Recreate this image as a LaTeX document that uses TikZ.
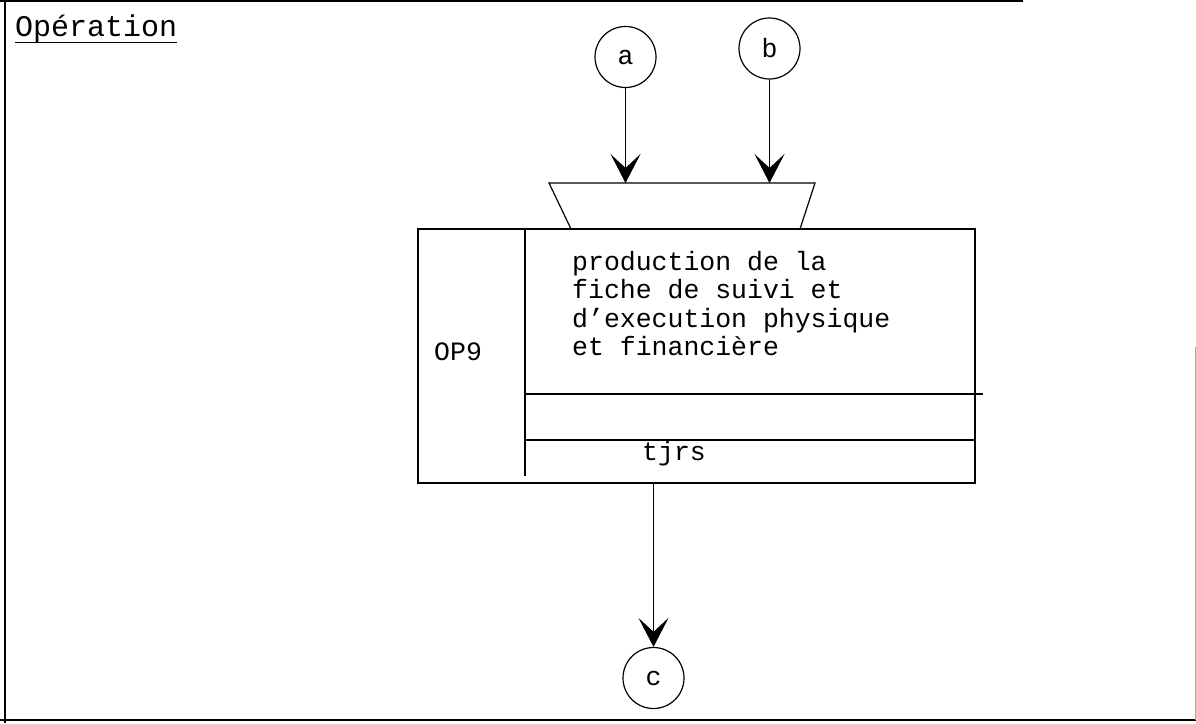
\documentclass[tikz,border=0pt]{standalone}
\usepackage{fontspec}
\newfontfamily\courier{Liberation Mono}
\usepackage{tikz}
\usetikzlibrary{shapes,arrows.meta,positioning,calc}
\tikzstyle{txt} = [inner sep=0pt, font=\courier\fontsize{26.5}{28.5}\selectfont]
\tikzstyle{conn} = [circle, draw, line width=1.2pt, minimum size=61pt, inner sep=0pt, font=\courier\fontsize{26.5}{28.5}\selectfont]
\tikzstyle{opbox} = [rectangle, draw, line width=1.2pt, minimum width=557pt, minimum height=254pt, inner sep=0pt]
\tikzstyle{trait} = [line width=1.2pt]
\tikzstyle{arrow} = [line width=1.2pt, -{Stealth[length=29pt, width=30pt, inset=14pt]}]

\begin{document}
\begin{tikzpicture}[x=1pt, y=-1pt]
\useasboundingbox (0,0) rectangle (1196,723);
% cadre
\draw[trait] (0,1) -- (1023,1);
\draw[trait] (5,0) -- (5,723);
\draw[trait] (0,720) -- (1196,720);
\draw[line width=1pt, black!35] (1195,347) -- (1195,720);

\node (titre) [anchor=base west, inner sep=0pt, font=\courier\fontsize{30}{34}\selectfont] at (15,36) {Opération};
\draw[trait] (titre.south west) -- (titre.south east);

\node (a) [conn] at (625.5,57) {a};
\node (b) [conn] at (769.5,48.5) {b};
\node (op) [opbox] at (696.5,356) {};
\node (c) [conn] at (653.5,678) {c};

% synchronisation
\coordinate (trap) at (682,183);
\draw[trait] (549,183) -- (815,183) -- (800,229) -- (571,229) -- cycle;

% cases internes
\draw[trait] (525,229) -- (525,476);
\draw[trait] (525,394) -- (983,394);
\draw[trait] (525,440) -- (op.east |- 0,440);

\node (num) [txt, anchor=base west] at (434,360) {OP9};
\node (libelle) [txt, anchor=north west, align=left] at (572,251) {production de la\\fiche de suivi et\\d’execution physique\\et financière};
\node (freq) [txt, anchor=base west] at (642,460) {tjrs};

\draw[arrow] (a) -- (a |- trap);
\draw[arrow] (b) -- (b |- trap);
\draw[arrow] (c |- op.south) -- (c);
\end{tikzpicture}
\end{document}
